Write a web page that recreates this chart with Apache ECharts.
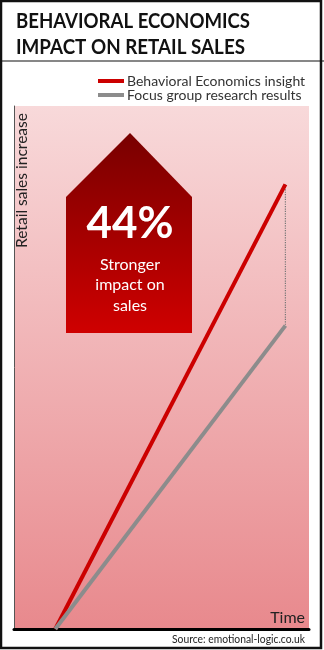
<!DOCTYPE html>
<html>
<head>
<meta charset="utf-8">
<script src="https://cdn.jsdelivr.net/npm/echarts@6/dist/echarts.min.js"></script>
<style>
html,body{margin:0;padding:0;background:#fff;}
#chart{width:324px;height:650px;}
</style>
</head>
<body>
<div id="chart"></div>
<script>
var titleLines = ['BEHAVIORAL ECONOMICS', 'IMPACT ON RETAIL SALES'];
var seriesNames = ['Behavioral Economics insight', 'Focus group research results'];
var timePoints = [14, 92];
var behavioralValues = [0, 85];
var focusGroupValues = [0, 58];
var calloutValue = '44%';
var calloutText = ['Stronger', 'impact on', 'sales'];
var yAxisLabel = 'Retail sales increase';
var xAxisLabel = 'Time';
var sourceText = 'Source: emotional-logic.co.uk';

var FONT = 'Lato, "Open Sans", sans-serif';
var chart = echarts.init(document.getElementById('chart'));

var mctx = document.createElement('canvas').getContext('2d');
function fitScale(text, font, target) {
  mctx.font = font;
  var w = mctx.measureText(text).width;
  return w > 0 ? target / w : 1;
}

function pairs(xs, ys) { return xs.map(function (x, i) { return [x, ys[i]]; }); }

var titleFont = 'bold 20px ' + FONT;
var yLabFont = '15px ' + FONT;
var srcFont = '11.5px ' + FONT;

var option = {
  animation: false,
  backgroundColor: '#ffffff',
  textStyle: { fontFamily: FONT },
  grid: {
    left: 14, right: 15, top: 106, bottom: 21,
    show: true, borderWidth: 0,
    backgroundColor: new echarts.graphic.LinearGradient(0, 0, 0, 1, [
      { offset: 0, color: '#f8d9da' },
      { offset: 1, color: '#e8898d' }
    ])
  },
  legend: {
    left: 93, top: 69, orient: 'vertical', itemGap: 0,
    itemWidth: 26, itemHeight: 4, icon: 'rect',
    data: seriesNames,
    textStyle: { fontFamily: FONT, fontSize: 14, color: '#333', padding: [0, 0, 0, -2] }
  },
  xAxis: {
    type: 'value', min: 0, max: 100,
    axisLine: { show: true, onZero: false, lineStyle: { color: '#000', width: 3 } },
    axisTick: { show: false }, axisLabel: { show: false }, splitLine: { show: false }
  },
  yAxis: {
    type: 'value', min: 0, max: 100,
    axisLine: { show: true, lineStyle: { color: '#555', width: 1 } },
    axisTick: { show: false }, axisLabel: { show: false }, splitLine: { show: false }
  },
  series: [
    {
      name: seriesNames[0], type: 'line', data: pairs(timePoints, behavioralValues),
      symbol: 'none', color: '#cc0000', lineStyle: { color: '#cc0000', width: 4 }, z: 3
    },
    {
      name: seriesNames[1], type: 'line', data: pairs(timePoints, focusGroupValues),
      symbol: 'none', color: '#8c8c8c', lineStyle: { color: '#8c8c8c', width: 4 }, z: 4
    },
    {
      name: 'gap', type: 'line',
      data: [[timePoints[1], behavioralValues[1]], [timePoints[1], focusGroupValues[1]]],
      symbol: 'none', lineStyle: { color: '#777', width: 1.2, type: 'dotted' }, z: 2
    }
  ],
  graphic: [
    { type: 'rect', shape: { x: 1, y: 1, width: 320, height: 647 }, style: { fill: 'none', stroke: '#111', lineWidth: 2.5 }, z: 100 },
    { type: 'line', shape: { x1: 0, y1: 61, x2: 324, y2: 61 }, style: { stroke: '#111', lineWidth: 1.2 }, z: 100 },
    { type: 'group', x: 16, y: 22, scaleX: 0.93, z: 100, children: [
      { type: 'text', x: 0, y: 0, style: { text: titleLines[0], font: titleFont, fill: '#111', verticalAlign: 'middle' } }
    ] },
    { type: 'group', x: 16, y: 48, scaleX: 0.94, z: 100, children: [
      { type: 'text', x: 0, y: 0, style: { text: titleLines[1], font: titleFont, fill: '#111', verticalAlign: 'middle' } }
    ] },
    {
      type: 'polygon', z: 50,
      shape: { points: [[130, 133], [192, 197], [192, 333], [66, 333], [66, 197]] },
      style: {
        fill: new echarts.graphic.LinearGradient(0, 0, 0, 1, [
          { offset: 0, color: '#780000' },
          { offset: 1, color: '#cf0000' }
        ])
      }
    },
    { type: 'text', x: 130, y: 224, z: 60, style: { text: calloutValue, font: 'bold 44px ' + FONT, fill: '#fff', align: 'center', verticalAlign: 'middle' } },
    { type: 'text', x: 130, y: 265, z: 60, style: { text: calloutText[0], font: '16px ' + FONT, fill: '#fff', align: 'center', verticalAlign: 'middle' } },
    { type: 'text', x: 130, y: 285, z: 60, style: { text: calloutText[1], font: '16px ' + FONT, fill: '#fff', align: 'center', verticalAlign: 'middle' } },
    { type: 'text', x: 130, y: 306, z: 60, style: { text: calloutText[2], font: '16px ' + FONT, fill: '#fff', align: 'center', verticalAlign: 'middle' } },
    { type: 'text', x: 22, y: 113, rotation: Math.PI / 2, scaleX: fitScale(yAxisLabel, yLabFont, 135), z: 60,
      style: { text: yAxisLabel, font: yLabFont, fill: '#222', align: 'right', verticalAlign: 'middle' } },
    { type: 'text', x: 305, y: 618, z: 60, style: { text: xAxisLabel, font: '16px ' + FONT, fill: '#222', align: 'right', verticalAlign: 'middle' } },
    { type: 'text', x: 305, y: 639, scaleX: fitScale(sourceText, srcFont, 133), z: 60,
      style: { text: sourceText, font: srcFont, fill: '#222', align: 'right', verticalAlign: 'middle' } }
  ]
};
chart.setOption(option);
</script>
</body>
</html>
